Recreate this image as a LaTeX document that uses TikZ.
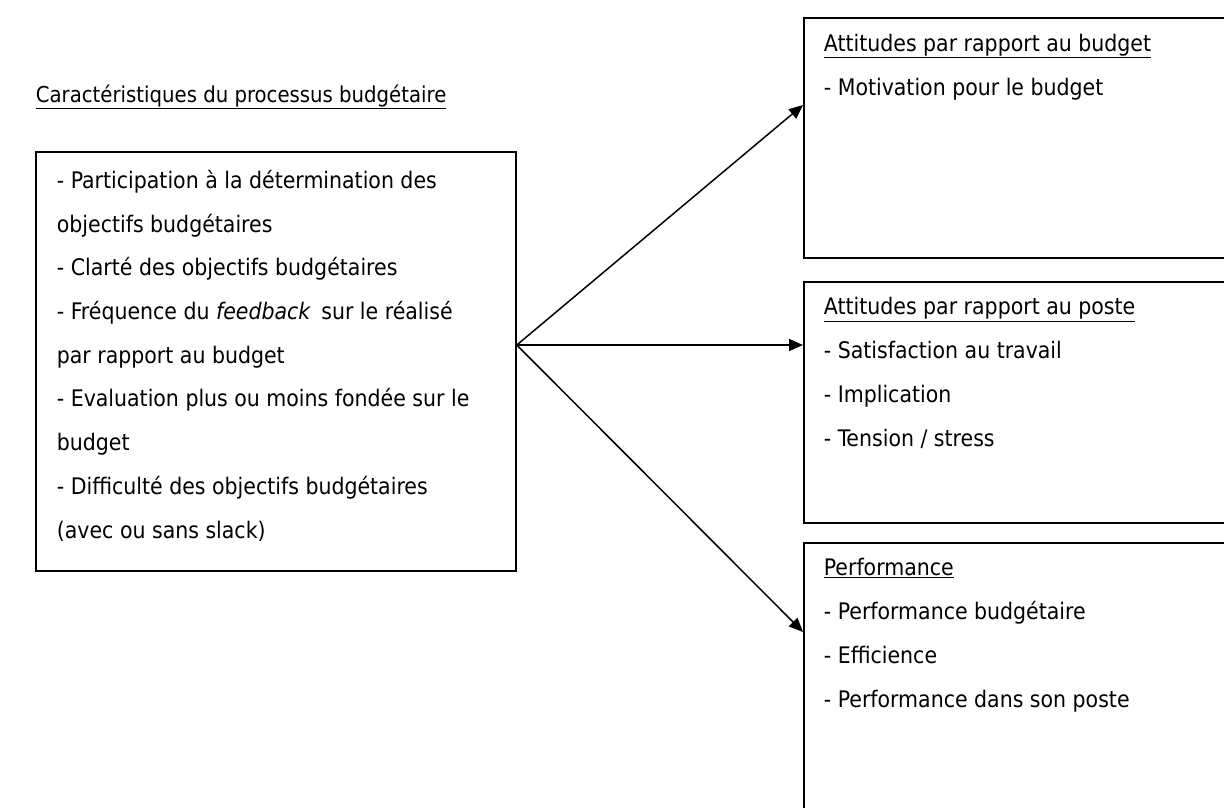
\documentclass[tikz,border=0pt]{standalone}
\usepackage{fontspec}
\setmainfont{DejaVu Sans Condensed}
\usetikzlibrary{positioning}
\usetikzlibrary{arrows.meta}

\begin{document}
\begin{tikzpicture}[x=1pt, y=-1pt, line width=1.8pt,
    txt/.style={align=left, inner sep=0pt, anchor=base west, font={\fontsize{22.8}{43.7}\selectfont}},
    link/.style={line width=1.5pt, -{Triangle[length=14pt, width=12pt]}}]
    \useasboundingbox (0,0) rectangle (1224,807);
    \clip (0,0) rectangle (1224,807);

    \node (proctitle) [txt, font={\fontsize{21.9}{43.7}\selectfont}] at (35,102) {\underline{Caractéristiques du processus budgétaire}};

    % boxes, text anchored at the baseline of its last line
    \node (procbox) [rectangle, minimum width=480pt, minimum height=419pt, draw=black, anchor=north west] at (35,151) {};
    \node (proctext) [txt, below right = 387pt and 21pt of procbox.north west, anchor=base west] {- Participation à la détermination des\\objectifs budgétaires\\- Clarté des objectifs budgétaires\\- Fréquence du \textit{feedback}\, sur le réalisé\\par rapport au budget\\- Evaluation plus ou moins fondée sur le\\budget\\- Difficulté des objectifs budgétaires\\(avec ou sans slack)};

    \node (budgetbox) [rectangle, minimum width=440pt, minimum height=240pt, draw=black, anchor=north west] at (803,17) {};
    \node (budgettext) [txt, below right = 78pt and 20pt of budgetbox.north west, anchor=base west] {\underline{Attitudes par rapport au budget}\\- Motivation pour le budget};

    \node (postebox) [rectangle, minimum width=440pt, minimum height=241pt, draw=black, anchor=north west] at (803,281) {};
    \node (postetext) [txt, below right = 165pt and 20pt of postebox.north west, anchor=base west] {\underline{Attitudes par rapport au poste}\\- Satisfaction au travail\\- Implication\\- Tension / stress};

    \node (perfbox) [rectangle, minimum width=440pt, minimum height=300pt, draw=black, anchor=north west] at (803,542) {};
    \node (perftext) [txt, below right = 165pt and 20pt of perfbox.north west, anchor=base west] {\underline{Performance}\\- Performance budgétaire\\- Efficience\\- Performance dans son poste};

    \coordinate (fork) at (procbox.east |- 0,345);
    \coordinate (budgettip) at (budgetbox.west |- 0,105);
    \coordinate (postetip) at (postebox.west |- 0,345);
    \coordinate (perftip) at (perfbox.west |- 0,632);

    \draw[link] (fork) -- (budgettip);
    \draw[link] (fork) -- (postetip);
    \draw[link] (fork) -- (perftip);
\end{tikzpicture}
\end{document}
